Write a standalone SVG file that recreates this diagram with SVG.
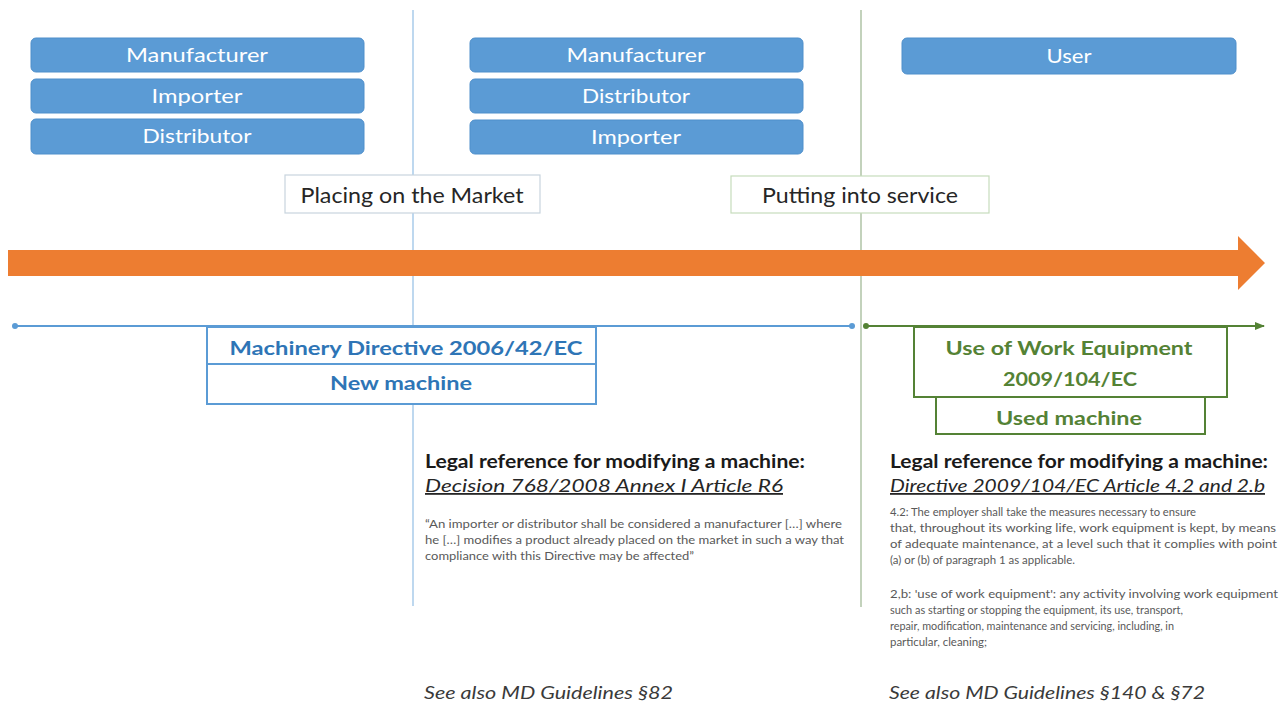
<svg xmlns="http://www.w3.org/2000/svg" width="1287" height="707" viewBox="0 0 1287 707">
<style>
  text { font-family: Lato, "Open Sans", "Liberation Sans", sans-serif; }
  .role rect { fill: #5B9BD5; stroke: #4F8FCB; stroke-width: 1; }
  .role text { fill: #FFFFFF; font-size: 19px; text-anchor: middle; }
  .stage rect { fill: #FFFFFF; stroke-width: 1.2; }
  .stage text { fill: #262626; font-size: 21px; text-anchor: middle; }
  .dirB { fill: #2E75B6; font-size: 19px; font-weight: bold; text-anchor: middle; }
  .dirG { fill: #548235; font-size: 19px; font-weight: bold; text-anchor: middle; }
  .head { fill: #1a1a1a; font-size: 18px; font-weight: bold; }
  .ital { fill: #262626; font-size: 18px; font-style: italic; text-decoration: underline; }
  .small { fill: #595959; font-size: 11px; }
  .see { fill: #3a3a3a; font-size: 18px; font-style: italic; }
</style>
<defs>
  <marker id="dotB" markerWidth="8" markerHeight="8" refX="4" refY="4" markerUnits="userSpaceOnUse">
    <circle cx="4" cy="4" r="3" fill="#5B9BD5"/>
  </marker>
  <marker id="dotG" markerWidth="8" markerHeight="8" refX="4" refY="4" markerUnits="userSpaceOnUse">
    <circle cx="4" cy="4" r="3" fill="#548235"/>
  </marker>
  <marker id="arrG" markerWidth="10" markerHeight="8" refX="9" refY="4" orient="auto" markerUnits="userSpaceOnUse">
    <path d="M0,0 L10,4 L0,8 Z" fill="#548235"/>
  </marker>
</defs>
<rect width="1287" height="707" fill="#FFFFFF"/>

<g id="connectors">
  <line x1="413" y1="10" x2="413" y2="606" stroke="#A9CBEA" stroke-width="1.5"/>
  <line x1="861" y1="10" x2="861" y2="607" stroke="#AFC3A6" stroke-width="1.5"/>
  <path id="timeline" d="M8,250 L1238,250 L1238,236 L1265,263 L1238,290 L1238,276 L8,276 Z" fill="#ED7D31"/>
  <line x1="15" y1="326" x2="852" y2="326" stroke="#5B9BD5" stroke-width="2" marker-start="url(#dotB)" marker-end="url(#dotB)"/>
  <line x1="866" y1="326" x2="1264" y2="326" stroke="#548235" stroke-width="2" marker-start="url(#dotG)" marker-end="url(#arrG)"/>
</g>

<g id="left-manufacturer" class="role"><rect x="31" y="38" width="333" height="34" rx="5"/><text x="197" y="62" textLength="142" lengthAdjust="spacingAndGlyphs">Manufacturer</text></g>
<g id="left-importer" class="role"><rect x="31" y="79" width="333" height="34" rx="5"/><text x="197" y="103" textLength="91" lengthAdjust="spacingAndGlyphs">Importer</text></g>
<g id="left-distributor" class="role"><rect x="31" y="119" width="333" height="35" rx="5"/><text x="197" y="143" textLength="109" lengthAdjust="spacingAndGlyphs">Distributor</text></g>

<g id="mid-manufacturer" class="role"><rect x="470" y="38" width="333" height="34" rx="5"/><text x="636" y="62" textLength="139" lengthAdjust="spacingAndGlyphs">Manufacturer</text></g>
<g id="mid-distributor" class="role"><rect x="470" y="79" width="333" height="34" rx="5"/><text x="636" y="103" textLength="108" lengthAdjust="spacingAndGlyphs">Distributor</text></g>
<g id="mid-importer" class="role"><rect x="470" y="120" width="333" height="34" rx="5"/><text x="636" y="144" textLength="90" lengthAdjust="spacingAndGlyphs">Importer</text></g>

<g id="user" class="role"><rect x="902" y="38" width="334" height="36" rx="5"/><text x="1069" y="63" textLength="45" lengthAdjust="spacingAndGlyphs">User</text></g>

<g id="placing" class="stage"><rect x="285" y="175" width="255" height="38" stroke="#C8D4DE"/><text x="412" y="203" textLength="223" lengthAdjust="spacingAndGlyphs">Placing on the Market</text></g>
<g id="putting" class="stage"><rect x="731" y="176" width="258" height="37" stroke="#C6DCBC"/><text x="860" y="203" textLength="196" lengthAdjust="spacingAndGlyphs">Putting into service</text></g>

<g id="machinery-directive">
  <rect x="207" y="327" width="389" height="77" fill="#FFFFFF" stroke="#5B9BD5" stroke-width="2"/>
  <line x1="207" y1="364" x2="596" y2="364" stroke="#5B9BD5" stroke-width="2"/>
  <text class="dirB" x="406" y="355" textLength="353" lengthAdjust="spacingAndGlyphs">Machinery Directive 2006/42/EC</text>
  <text class="dirB" x="401" y="390" textLength="142" lengthAdjust="spacingAndGlyphs">New machine</text>
</g>

<g id="work-equipment">
  <rect x="914" y="327" width="313" height="70" fill="#FFFFFF" stroke="#548235" stroke-width="2"/>
  <text class="dirG" x="1069" y="355" textLength="247" lengthAdjust="spacingAndGlyphs">Use of Work Equipment</text>
  <text class="dirG" x="1070" y="386" textLength="134" lengthAdjust="spacingAndGlyphs">2009/104/EC</text>
</g>
<g id="used-machine">
  <rect x="936" y="397" width="269" height="37" fill="#FFFFFF" stroke="#548235" stroke-width="2"/>
  <text class="dirG" x="1069" y="425" textLength="146" lengthAdjust="spacingAndGlyphs">Used machine</text>
</g>

<g id="legal-left">
  <text class="head" x="425" y="468" textLength="380" lengthAdjust="spacingAndGlyphs">Legal reference for modifying a machine:</text>
  <text class="ital" x="425" y="492" textLength="358" lengthAdjust="spacingAndGlyphs">Decision 768/2008 Annex I Article R6</text>
  <text class="small" x="425" y="528" textLength="417" lengthAdjust="spacingAndGlyphs">“An importer or distributor shall be considered a manufacturer […] where</text>
  <text class="small" x="425" y="544" textLength="419" lengthAdjust="spacingAndGlyphs">he […] modifies a product already placed on the market in such a way that</text>
  <text class="small" x="425" y="560" textLength="269" lengthAdjust="spacingAndGlyphs">compliance with this Directive may be affected”</text>
</g>

<g id="legal-right">
  <text class="head" x="890" y="468" textLength="378" lengthAdjust="spacingAndGlyphs">Legal reference for modifying a machine:</text>
  <text class="ital" x="890" y="492" textLength="375" lengthAdjust="spacingAndGlyphs">Directive 2009/104/EC Article 4.2 and 2.b</text>
  <text class="small" x="890" y="516" textLength="306" lengthAdjust="spacingAndGlyphs">4.2: The employer shall take the measures necessary to ensure</text>
  <text class="small" x="890" y="532" textLength="386" lengthAdjust="spacingAndGlyphs">that, throughout its working life, work equipment is kept, by means</text>
  <text class="small" x="890" y="548" textLength="387" lengthAdjust="spacingAndGlyphs">of adequate maintenance, at a level such that it complies with point</text>
  <text class="small" x="890" y="564" textLength="185" lengthAdjust="spacingAndGlyphs">(a) or (b) of paragraph 1 as applicable.</text>
  <text class="small" x="890" y="598" textLength="388" lengthAdjust="spacingAndGlyphs">2,b: 'use of work equipment': any activity involving work equipment</text>
  <text class="small" x="890" y="614" textLength="293" lengthAdjust="spacingAndGlyphs">such as starting or stopping the equipment, its use, transport,</text>
  <text class="small" x="890" y="630" textLength="284" lengthAdjust="spacingAndGlyphs">repair, modification, maintenance and servicing, including, in</text>
  <text class="small" x="890" y="646" textLength="97" lengthAdjust="spacingAndGlyphs">particular, cleaning;</text>
</g>

<g id="see-also">
  <text class="see" x="424" y="699" textLength="249" lengthAdjust="spacingAndGlyphs">See also MD Guidelines §82</text>
  <text class="see" x="889" y="699" textLength="316" lengthAdjust="spacingAndGlyphs">See also MD Guidelines §140 &amp; §72</text>
</g>
</svg>
